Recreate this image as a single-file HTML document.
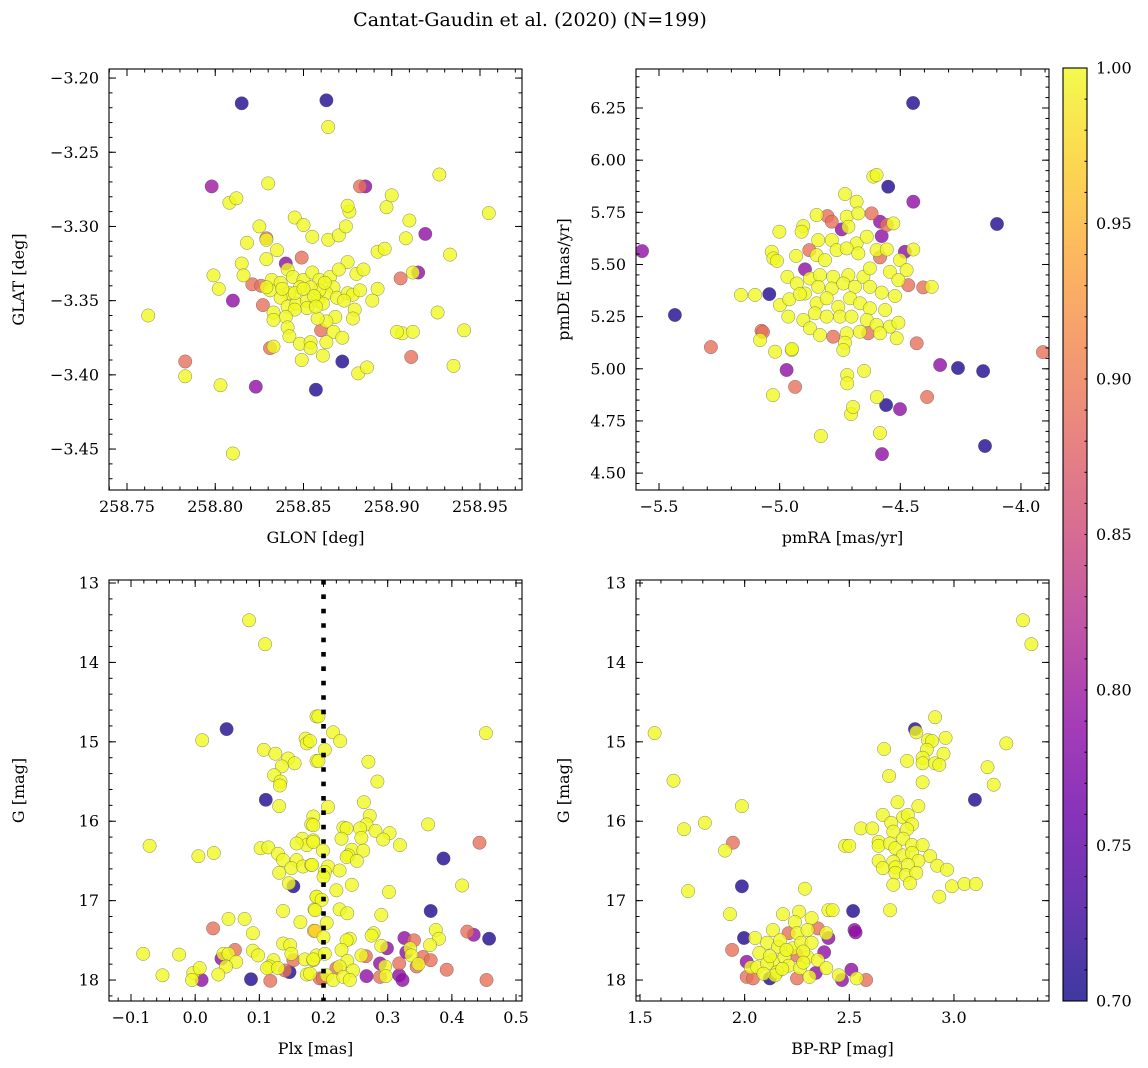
<!DOCTYPE html>
<html><head><meta charset="utf-8">
<style>
html,body{margin:0;padding:0;background:#fff;}
svg{display:block;font-family:"DejaVu Serif","Liberation Serif",serif;}
</style></head>
<body>
<svg id="fig" width="1148" height="1068" viewBox="0 0 1148 1068" xmlns="http://www.w3.org/2000/svg">
<defs>
<linearGradient id="cbgrad" x1="0" y1="1" x2="0" y2="0">
<stop offset="0" stop-color="#0d0887"/><stop offset="0.1" stop-color="#41049d"/><stop offset="0.2" stop-color="#6a00a8"/><stop offset="0.3" stop-color="#8f0da4"/><stop offset="0.4" stop-color="#b12a90"/><stop offset="0.5" stop-color="#cc4778"/><stop offset="0.6" stop-color="#e16462"/><stop offset="0.7" stop-color="#f2844b"/><stop offset="0.8" stop-color="#fca636"/><stop offset="0.9" stop-color="#fcce25"/><stop offset="1" stop-color="#f0f921"/>
</linearGradient>
</defs>
<text x="530" y="26" font-size="19" text-anchor="middle">Cantat-Gaudin et al. (2020) (N=199)</text>
<g id="layer"></g>
</svg>
<script>
// ---- data (value, value, membership probability) ----
const p1Stars = [[258.808,-3.284,1],[258.812,-3.281,1],[258.830,-3.271,1],[258.845,-3.294,1],[258.850,-3.299,1],[258.825,-3.300,1],[258.818,-3.311,1],[258.829,-3.309,1],[258.835,-3.316,1],[258.815,-3.325,1],[258.816,-3.333,1],[258.829,-3.322,1],[258.855,-3.307,1],[258.864,-3.309,1],[258.870,-3.306,1],[258.874,-3.300,1],[258.876,-3.290,1],[258.875,-3.286,1],[258.897,-3.287,1],[258.900,-3.279,1],[258.910,-3.296,1],[258.908,-3.308,1],[258.892,-3.317,1],[258.896,-3.315,1],[258.875,-3.324,1],[258.880,-3.332,1],[258.884,-3.329,1],[258.912,-3.331,1],[258.905,-3.335,0.89],[258.821,-3.339,0.89],[258.810,-3.350,0.79],[258.827,-3.353,0.89],[258.832,-3.336,1],[258.837,-3.338,1],[258.841,-3.329,1],[258.844,-3.334,1],[258.850,-3.336,1],[258.855,-3.331,1],[258.859,-3.336,1],[258.865,-3.334,1],[258.870,-3.329,1],[258.867,-3.341,1],[258.863,-3.345,1],[258.859,-3.343,1],[258.854,-3.341,1],[258.848,-3.341,1],[258.842,-3.345,1],[258.837,-3.348,1],[258.831,-3.343,1],[258.829,-3.341,1],[258.841,-3.354,1],[258.846,-3.352,1],[258.852,-3.350,1],[258.858,-3.350,1],[258.861,-3.352,1],[258.869,-3.348,1],[258.875,-3.345,1],[258.878,-3.346,1],[258.882,-3.343,1],[258.892,-3.342,1],[258.889,-3.350,1],[258.879,-3.356,1],[258.878,-3.362,1],[258.868,-3.361,1],[258.863,-3.364,1],[258.858,-3.362,1],[258.852,-3.355,1],[258.845,-3.356,1],[258.840,-3.361,1],[258.833,-3.358,1],[258.833,-3.363,1],[258.841,-3.368,1],[258.860,-3.370,0.89],[258.867,-3.371,1],[258.872,-3.375,1],[258.842,-3.374,1],[258.848,-3.379,1],[258.854,-3.378,1],[258.854,-3.382,1],[258.863,-3.378,1],[258.831,-3.382,0.89],[258.833,-3.381,1],[258.849,-3.390,1],[258.861,-3.387,1],[258.872,-3.391,0.71],[258.881,-3.399,1],[258.886,-3.395,1],[258.906,-3.372,1],[258.912,-3.371,1],[258.911,-3.388,0.89],[258.840,-3.325,0.79],[258.849,-3.321,0.89],[258.829,-3.308,0.89],[258.882,-3.273,0.89],[258.885,-3.273,0.79],[258.845,-3.345,1],[258.856,-3.347,1],[258.850,-3.342,1],[258.862,-3.338,1],[258.838,-3.342,1],[258.873,-3.350,1],[258.857,-3.354,1],[258.815,-3.217,0.71],[258.863,-3.215,0.71],[258.864,-3.233,1],[258.798,-3.273,0.80],[258.927,-3.265,1],[258.955,-3.291,1],[258.919,-3.305,0.79],[258.933,-3.319,1],[258.799,-3.333,1],[258.802,-3.342,1],[258.762,-3.360,1],[258.915,-3.331,0.79],[258.926,-3.358,1],[258.941,-3.370,1],[258.903,-3.371,1],[258.935,-3.394,1],[258.857,-3.410,0.71],[258.783,-3.391,0.89],[258.783,-3.401,1],[258.803,-3.407,1],[258.823,-3.408,0.79],[258.810,-3.453,1],[258.826,-3.340,0.89]];

const p2Stars = [[-4.612,5.921,1],[-4.598,5.929,1],[-4.550,5.873,0.71],[-4.446,5.801,0.79],[-4.729,5.838,1],[-4.681,5.801,1],[-4.847,5.737,1],[-4.802,5.732,0.89],[-4.784,5.705,0.89],[-4.722,5.729,1],[-4.674,5.745,1],[-4.619,5.745,0.89],[-4.584,5.705,0.79],[-4.556,5.689,0.89],[-4.529,5.697,1],[-4.743,5.668,0.79],[-4.715,5.681,1],[-4.577,5.636,0.79],[-5.001,5.657,1],[-4.902,5.684,1],[-4.909,5.657,1],[-4.840,5.617,1],[-4.784,5.617,1],[-4.681,5.601,1],[-4.639,5.633,1],[-4.877,5.569,0.89],[-4.847,5.545,1],[-4.812,5.521,1],[-4.764,5.569,1],[-4.722,5.577,1],[-4.674,5.553,1],[-4.598,5.569,1],[-4.556,5.572,1],[-4.481,5.561,0.79],[-4.446,5.572,1],[-4.584,5.534,0.89],[-4.501,5.521,1],[-5.033,5.561,1],[-5.026,5.529,1],[-4.932,5.541,1],[-4.895,5.477,0.79],[-4.968,5.441,1],[-4.929,5.409,1],[-4.874,5.433,1],[-4.833,5.449,1],[-4.778,5.441,1],[-4.715,5.449,1],[-4.653,5.441,1],[-4.626,5.481,1],[-4.543,5.465,1],[-4.474,5.473,1],[-4.508,5.425,1],[-4.467,5.401,0.89],[-4.405,5.390,0.89],[-4.370,5.393,1],[-5.102,5.354,1],[-5.043,5.358,0.71],[-4.999,5.306,1],[-4.960,5.333,1],[-4.895,5.361,1],[-4.840,5.393,1],[-4.784,5.385,1],[-4.736,5.409,1],[-4.688,5.393,1],[-4.626,5.393,1],[-4.577,5.365,1],[-4.522,5.349,1],[-4.916,5.358,1],[-4.847,5.314,1],[-4.805,5.338,1],[-4.757,5.297,1],[-4.708,5.338,1],[-4.667,5.314,1],[-4.626,5.290,1],[-4.563,5.282,1],[-4.964,5.250,1],[-4.902,5.234,1],[-4.854,5.266,1],[-4.805,5.250,1],[-4.750,5.250,1],[-4.702,5.250,1],[-4.639,5.234,1],[-4.598,5.210,1],[-4.543,5.202,1],[-4.508,5.221,1],[-4.874,5.194,1],[-4.833,5.162,1],[-4.778,5.154,0.89],[-4.722,5.170,1],[-4.667,5.178,1],[-4.633,5.170,0.89],[-4.584,5.170,1],[-4.515,5.146,1],[-5.075,5.182,0.89],[-5.081,5.138,1],[-5.019,5.082,1],[-4.950,5.090,1],[-4.729,5.125,1],[-4.736,5.090,1],[-4.432,5.122,0.89],[-4.335,5.018,0.79],[-4.971,4.994,0.79],[-4.447,6.274,0.71],[-4.099,5.694,0.71],[-5.570,5.564,0.79],[-5.434,5.258,0.71],[-5.285,5.104,0.89],[-3.909,5.080,0.89],[-4.261,5.004,0.71],[-4.157,4.989,0.71],[-4.149,4.630,0.71],[-4.389,4.865,0.89],[-4.559,4.826,0.71],[-4.501,4.807,0.79],[-4.576,4.591,0.79],[-4.584,4.692,1],[-4.829,4.678,1],[-4.704,4.783,1],[-4.696,4.817,1],[-4.597,4.865,1],[-4.936,4.913,0.89],[-5.028,4.874,1],[-4.949,5.095,1],[-5.069,5.176,0.89],[-5.160,5.354,1],[-5.011,5.517,1],[-4.720,4.970,1],[-4.720,4.930,1],[-4.650,4.990,1]];

const p3Stars = [[0.189,14.68,1],[0.049,14.84,0.71],[0.011,14.98,1],[0.172,14.96,1],[0.174,15.02,1],[0.107,15.10,1],[0.125,15.15,1],[0.145,15.21,1],[0.155,15.27,1],[0.135,15.31,1],[0.189,15.24,1],[0.123,15.42,1],[0.133,15.50,1],[0.132,15.55,1],[0.110,15.73,0.71],[0.131,15.81,1],[0.184,15.94,1],[0.181,16.04,1],[-0.071,16.31,1],[0.005,16.44,1],[0.029,16.40,1],[0.102,16.34,1],[0.114,16.33,1],[0.129,16.41,1],[0.137,16.49,1],[0.158,16.49,1],[0.150,16.59,1],[0.168,16.57,1],[0.181,16.55,1],[0.167,16.22,1],[0.174,16.30,1],[0.158,16.28,1],[0.184,16.24,1],[0.131,16.65,1],[0.153,16.82,0.71],[0.146,16.78,1],[0.189,16.95,1],[0.186,17.11,1],[0.137,17.13,1],[0.164,17.27,1],[0.185,17.38,0.97],[0.052,17.23,1],[0.077,17.23,1],[0.028,17.35,0.89],[0.090,17.41,1],[-0.081,17.67,1],[-0.025,17.68,1],[0.062,17.62,0.89],[0.044,17.67,1],[0.052,17.67,1],[0.041,17.73,0.79],[0.064,17.77,1],[0.048,17.83,1],[0.090,17.63,1],[0.098,17.69,1],[0.137,17.54,1],[0.148,17.56,1],[0.150,17.67,1],[0.153,17.75,0.89],[0.171,17.74,1],[0.184,17.75,1],[0.189,17.69,1],[0.122,17.75,1],[0.116,17.83,1],[0.112,17.85,1],[0.129,17.85,1],[0.140,17.88,0.89],[0.147,17.90,0.71],[0.174,17.93,1],[0.194,17.98,0.89],[-0.051,17.94,1],[-0.003,17.91,1],[0.007,17.85,1],[-0.005,18.00,1],[0.010,18.00,0.79],[0.036,17.93,1],[0.087,17.99,0.71],[0.117,18.01,0.89],[0.084,13.47,1],[0.109,13.77,1],[0.192,14.68,1],[0.215,14.88,1],[0.226,14.99,1],[0.202,15.10,1],[0.192,15.24,1],[0.179,14.99,1],[0.270,15.25,1],[0.284,15.50,1],[0.207,15.82,1],[0.263,15.76,1],[0.272,15.93,1],[0.267,16.04,1],[0.257,16.09,1],[0.231,16.08,1],[0.236,16.09,1],[0.281,16.12,1],[0.303,16.15,1],[0.293,16.23,1],[0.259,16.21,1],[0.228,16.22,1],[0.319,16.30,1],[0.363,16.04,1],[0.184,16.05,1],[0.184,16.26,1],[0.199,16.37,1],[0.244,16.36,1],[0.262,16.37,1],[0.239,16.43,1],[0.236,16.45,1],[0.252,16.50,1],[0.443,16.27,0.89],[0.453,14.89,1],[0.387,16.47,0.71],[0.182,16.55,1],[0.207,16.57,1],[0.202,16.64,1],[0.225,16.62,1],[0.200,16.70,1],[0.244,16.80,1],[0.220,16.87,1],[0.302,16.89,1],[0.416,16.81,1],[0.189,16.95,1],[0.197,16.99,1],[0.225,17.11,1],[0.237,17.16,1],[0.187,17.12,1],[0.290,17.18,1],[0.367,17.13,0.71],[0.205,17.28,1],[0.187,17.38,0.97],[0.200,17.46,1],[0.278,17.41,1],[0.275,17.44,1],[0.241,17.48,1],[0.236,17.50,1],[0.326,17.47,0.79],[0.341,17.50,0.89],[0.375,17.37,1],[0.380,17.48,1],[0.366,17.56,1],[0.424,17.39,0.89],[0.434,17.43,0.79],[0.458,17.48,0.71],[0.299,17.60,0.79],[0.290,17.57,1],[0.335,17.60,1],[0.337,17.69,1],[0.329,17.65,0.79],[0.228,17.62,1],[0.259,17.69,1],[0.266,17.70,0.89],[0.355,17.71,0.89],[0.367,17.75,0.89],[0.348,17.80,1],[0.237,17.76,1],[0.184,17.74,1],[0.202,17.67,1],[0.288,17.79,0.79],[0.318,17.79,0.89],[0.296,17.83,1],[0.225,17.83,1],[0.220,17.85,0.89],[0.246,17.88,1],[0.392,17.87,0.89],[0.267,17.95,0.79],[0.288,17.96,0.89],[0.297,17.95,1],[0.318,17.94,0.79],[0.323,18.00,0.79],[0.345,17.83,0.89],[0.454,18.00,0.89],[0.205,17.94,1],[0.215,18.00,1],[0.231,17.96,1],[0.241,18.00,1],[0.199,17.98,0.89],[0.179,17.92,1]];

const p4Stars = [[3.33,13.47,1],[3.37,13.77,1],[1.57,14.89,1],[1.66,15.49,1],[1.71,16.10,1],[1.81,16.02,1],[1.73,16.88,1],[1.987,15.81,1],[1.944,16.27,0.89],[1.906,16.37,1],[2.48,16.31,1],[1.987,16.82,0.71],[2.288,16.85,1],[1.93,17.17,1],[2.518,17.13,0.71],[2.40,17.12,1],[2.42,17.12,1],[2.183,17.17,1],[2.26,17.14,1],[2.24,17.27,1],[2.32,17.22,1],[1.997,17.47,0.71],[1.94,17.62,0.89],[2.05,17.47,1],[2.135,17.37,1],[2.21,17.41,0.89],[2.25,17.41,1],[2.30,17.37,1],[2.35,17.35,0.89],[2.39,17.41,1],[2.40,17.47,0.79],[2.107,17.53,1],[2.16,17.58,1],[2.23,17.60,1],[2.27,17.53,1],[2.32,17.53,1],[2.07,17.66,1],[2.135,17.75,1],[2.19,17.71,1],[2.25,17.69,0.89],[2.30,17.71,1],[2.35,17.75,1],[2.38,17.65,0.79],[2.01,17.77,0.79],[2.03,17.84,1],[2.06,17.84,1],[2.107,17.79,1],[2.155,17.90,1],[2.21,17.82,1],[2.265,17.85,1],[2.31,17.96,1],[2.34,17.91,0.79],[2.39,17.85,1],[2.01,17.96,0.89],[2.04,17.98,0.89],[2.12,17.98,0.71],[2.145,17.94,1],[2.25,17.98,0.89],[2.45,17.94,1],[2.465,18.00,0.79],[2.51,17.87,0.79],[2.535,17.98,1],[2.525,17.37,0.79],[2.58,18.00,0.89],[2.91,14.69,1],[2.814,14.84,0.71],[2.82,14.88,1],[2.876,14.98,1],[2.895,14.99,1],[2.96,14.95,1],[2.666,15.09,1],[2.87,15.10,1],[2.95,15.15,1],[2.85,15.20,1],[2.776,15.24,1],[2.85,15.27,1],[2.91,15.27,1],[2.93,15.29,1],[3.16,15.32,1],[3.19,15.54,1],[2.69,15.43,1],[2.85,15.51,1],[3.10,15.73,0.71],[2.73,15.76,1],[2.83,15.81,1],[2.66,15.92,1],[2.757,15.95,1],[3.25,15.02,1],[2.78,15.92,1],[2.556,16.09,1],[2.61,16.09,1],[2.70,16.02,1],[2.80,16.04,1],[2.71,16.13,1],[2.776,16.10,1],[2.50,16.31,1],[2.64,16.26,1],[2.64,16.31,1],[2.695,16.28,1],[2.72,16.34,1],[2.757,16.22,1],[2.80,16.30,1],[2.85,16.30,1],[2.757,16.43,1],[2.80,16.40,1],[2.886,16.44,1],[2.64,16.50,1],[2.71,16.51,1],[2.83,16.50,1],[2.66,16.59,1],[2.72,16.58,1],[2.78,16.55,1],[2.92,16.56,1],[2.967,16.61,1],[2.72,16.65,1],[2.77,16.68,1],[2.82,16.65,1],[2.71,16.80,1],[2.79,16.78,1],[2.99,16.82,1],[3.05,16.79,1],[3.105,16.79,1],[2.93,16.95,1],[2.695,17.12,1],[2.53,17.40,0.79],[2.17,17.50,1],[2.20,17.62,1],[2.28,17.64,1],[2.12,17.70,1],[2.18,17.86,1],[2.28,17.78,1],[2.09,17.92,1]];

// ---- tick arrays ----
const p1XTicks=[258.75,258.80,258.85,258.90,258.95];
const p1YTicks=[-3.20,-3.25,-3.30,-3.35,-3.40,-3.45];
const p2XTicks=[-5.5,-5.0,-4.5,-4.0];
const p2YTicks=[4.50,4.75,5.00,5.25,5.50,5.75,6.00,6.25];
const p3XTicks=[-0.1,0.0,0.1,0.2,0.3,0.4,0.5];
const gTicks=[13,14,15,16,17,18];
const p4XTicks=[1.5,2.0,2.5,3.0];
const cbTicks=[0.70,0.75,0.80,0.85,0.90,0.95,1.00];
const plxLine=[0.2];

const NS="http://www.w3.org/2000/svg";
const layer=document.getElementById('layer');
function mk(tag,attrs,parent){const e=document.createElementNS(NS,tag);for(const k in attrs)e.setAttribute(k,attrs[k]);(parent||layer).appendChild(e);return e;}
const stops=[[0,[13,8,135]],[0.1,[65,4,157]],[0.2,[106,0,168]],[0.3,[143,13,164]],[0.4,[177,42,144]],[0.5,[204,71,120]],[0.6,[225,100,98]],[0.7,[242,132,75]],[0.8,[252,166,54]],[0.9,[252,206,37]],[1,[240,249,33]]];
function plasma(t){t=Math.max(0,Math.min(1,t));for(let i=1;i<stops.length;i++){if(t<=stops[i][0]){const a=stops[i-1],b=stops[i];const f=(t-a[0])/(b[0]-a[0]);const c=a[1].map((v,j)=>Math.round(v+(b[1][j]-v)*f));return `rgb(${c[0]},${c[1]},${c[2]})`;}}return 'rgb(240,249,33)';}
function fmt(v,d){const s=Math.abs(v).toFixed(d);return (v<-1e-9?'\u2212':'')+s;}

function panel(cfg){
  const {L,T,R,B,xa,xb,ya,yb,name}=cfg;
  const g=mk('g',{});
  
  
  const sx=v=>L+(v-xa)/(xb-xa)*(R-L);
  const sy=v=>T+(v-ya)/(yb-ya)*(B-T);
  const clipId='clip-'+name;
  const cp=mk('clipPath',{id:clipId},g);mk('rect',{x:L,y:T,width:R-L,height:B-T},cp);
  const pts=mk('g',{'clip-path':`url(#${clipId})`},g);
  
  
  const sorted=cfg.data.slice().sort((a,b)=>a[2]-b[2]);
  sorted.forEach(d=>{
    const c=mk('circle',{cx:sx(d[0]).toFixed(1),cy:sy(d[1]).toFixed(1),r:6.7,fill:plasma((d[2]-0.7)/0.3),'fill-opacity':0.8,stroke:'#555','stroke-width':0.5,'stroke-opacity':0.7},pts);
    
    
  });
  if(cfg.vline){cfg.vline.forEach(v=>{const l=mk('line',{x1:sx(v),x2:sx(v),y1:T,y2:B,stroke:'#000','stroke-width':4.6,'stroke-dasharray':'4.6 9.8'},g);
    
    });}
  const fr=mk('rect',{x:L,y:T,width:R-L,height:B-T,fill:'none',stroke:'#000','stroke-width':1.1},g);
  
  
  const tk=mk('g',{stroke:'#000','stroke-width':1},g);
  const lo=Math.min(xa,xb),hi=Math.max(xa,xb);
  for(let v=Math.ceil(lo/cfg.xm-1e-6)*cfg.xm;v<=hi;v+=cfg.xm){const x=sx(v);mk('line',{x1:x,x2:x,y1:B,y2:B-3.5},tk);mk('line',{x1:x,x2:x,y1:T,y2:T+3.5},tk);}
  const ylo=Math.min(ya,yb),yhi=Math.max(ya,yb);
  for(let v=Math.ceil(ylo/cfg.ym-1e-6)*cfg.ym;v<=yhi;v+=cfg.ym){const y=sy(v);mk('line',{x1:L,x2:L+3.5,y1:y,y2:y},tk);mk('line',{x1:R,x2:R-3.5,y1:y,y2:y},tk);}
  cfg.xt.forEach(v=>{const x=sx(v);mk('line',{x1:x,x2:x,y1:B,y2:B-7},tk);mk('line',{x1:x,x2:x,y1:T,y2:T+7},tk);
    const t=mk('text',{x:x,y:B+22,'font-size':16,'text-anchor':'middle'},g);t.textContent=fmt(v,cfg.xd);
    
    });
  cfg.yt.forEach(v=>{const y=sy(v);mk('line',{x1:L,x2:L+7,y1:y,y2:y},tk);mk('line',{x1:R,x2:R-7,y1:y,y2:y},tk);
    const t=mk('text',{x:L-10,y:y+5.5,'font-size':16,'text-anchor':'end'},g);t.textContent=fmt(v,cfg.yd);
    
    });
  const xl=mk('text',{x:(L+R)/2,y:B+53,'font-size':16,'text-anchor':'middle'},g);xl.textContent=cfg.xlab;
  
  
  const yx=cfg.ylx;const yc=(T+B)/2;
  const yl=mk('text',{x:yx,y:yc,'font-size':16,'text-anchor':'middle',transform:`rotate(-90 ${yx} ${yc})`},g);yl.textContent=cfg.ylab;
  
  
}

panel({name:'panel-glon-glat',L:109,T:69,R:522,B:490,xa:258.7398,xb:258.9738,ya:-3.1939,yb:-3.4776,xm:0.01,ym:0.01,xt:p1XTicks,yt:p1YTicks,xd:2,yd:2,xlab:'GLON [deg]',ylab:'GLAT [deg]',ylx:24,data:p1Stars});
panel({name:'panel-pmra-pmde',L:636,T:69,R:1049,B:490,xa:-5.5953,xb:-3.8837,ya:6.437,yb:4.419,xm:0.1,ym:0.05,xt:p2XTicks,yt:p2YTicks,xd:1,yd:2,xlab:'pmRA [mas/yr]',ylab:'pmDE [mas/yr]',ylx:569,data:p2Stars});
panel({name:'panel-plx-g',L:109,T:580,R:522,B:1001,xa:-0.1343,xb:0.5093,ya:12.962,yb:18.264,xm:0.02,ym:0.2,xt:p3XTicks,yt:gTicks,xd:1,yd:0,xlab:'Plx [mas]',ylab:'G [mag]',ylx:24,data:p3Stars,vline:plxLine});
panel({name:'panel-cmd',L:636,T:580,R:1049,B:1001,xa:1.4809,xb:3.454,ya:12.962,yb:18.264,xm:0.1,ym:0.2,xt:p4XTicks,yt:gTicks,xd:1,yd:0,xlab:'BP-RP [mag]',ylab:'G [mag]',ylx:569,data:p4Stars});

// colorbar
(function(){
  const L=1063,R=1087,T=68,B=1001;
  const g=mk('g',{});
  
  
  mk('rect',{x:L,y:T,width:R-L,height:B-T,fill:'#fff'},g);
  mk('rect',{x:L,y:T,width:R-L,height:B-T,fill:'url(#cbgrad)','fill-opacity':0.8},g);
  mk('rect',{x:L,y:T,width:R-L,height:B-T,fill:'none',stroke:'#000','stroke-width':1.1},g);
  const sy=v=>B-(v-0.7)/0.3*(B-T);
  for(let v=0.70;v<=1.0001;v+=0.01){const y=sy(v);mk('line',{x1:R,x2:R-2.5,y1:y,y2:y,stroke:'#000'},g);}
  cbTicks.forEach(v=>{const y=sy(v);
    const t=mk('text',{x:R+9,y:y+5.5,'font-size':16},g);t.textContent=v.toFixed(2);
    
    });
})();
</script>
</body></html>
